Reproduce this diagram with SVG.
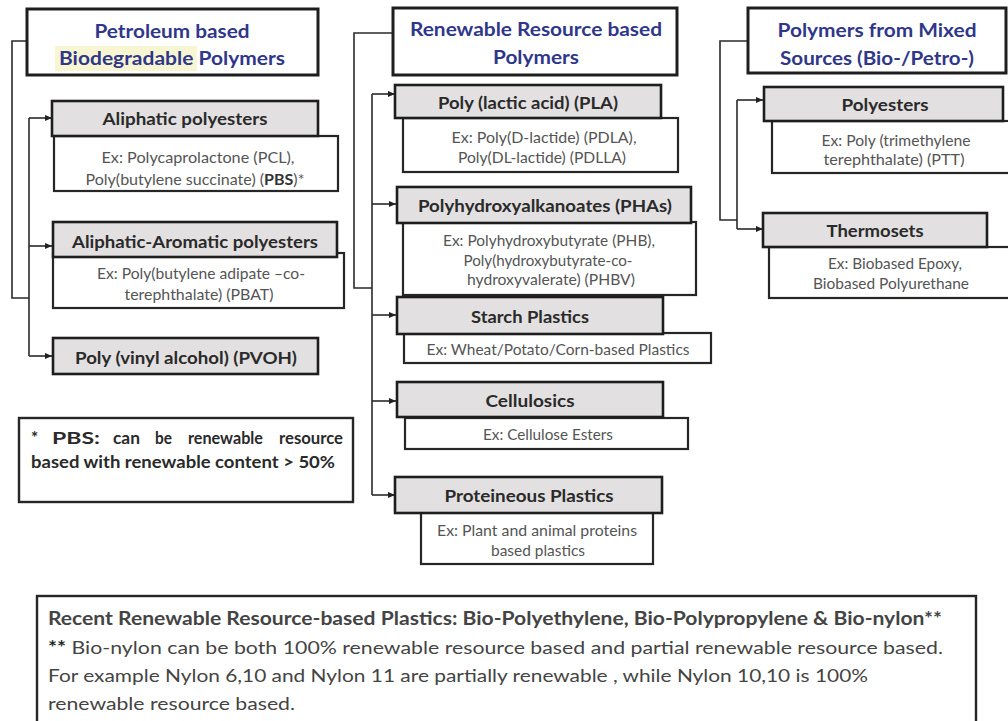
<svg xmlns="http://www.w3.org/2000/svg" width="1008" height="721" viewBox="0 0 1008 721">
<defs>
<marker id="arr" viewBox="0 0 8 8" refX="8" refY="4" markerWidth="7" markerHeight="7" markerUnits="userSpaceOnUse" orient="auto">
<path d="M0,0.5 L8,4 L0,7.5 z" fill="#222"/>
</marker>
<style>
.hdr{fill:#fff;stroke:#1e1e1e;stroke-width:3}
.cat{fill:#e2e0e0;stroke:#1e1e1e;stroke-width:2.6}
.ex{fill:#fff;stroke:#262626;stroke-width:2.2}
.note{fill:#fff;stroke:#262626;stroke-width:2.4}
.ht{font-family:Lato,"Liberation Sans",sans-serif;font-weight:bold;font-size:19px;fill:#2f378a;text-anchor:middle;dominant-baseline:central}
.ct{font-family:Lato,"Liberation Sans",sans-serif;font-weight:bold;font-size:17px;fill:#2a2a2a;text-anchor:middle;dominant-baseline:central}
.et{font-family:Lato,"Liberation Sans",sans-serif;font-size:15px;fill:#555;text-anchor:middle;dominant-baseline:central}
.nt{font-family:Lato,"Liberation Sans",sans-serif;font-weight:bold;font-size:17px;fill:#2a2a2a;dominant-baseline:central}
.bt{font-family:Lato,"Liberation Sans",sans-serif;font-size:18px;fill:#444;dominant-baseline:central}
.conn{fill:none;stroke:#2a2a2a;stroke-width:1.6}
</style>
</defs>
<rect width="1008" height="721" fill="#fff"/>

<g id="connectors">
<path class="conn" d="M27,41 H12 V298 H29"/>
<path class="conn" d="M29,118 V356"/>
<path class="conn" d="M29,118 H52" marker-end="url(#arr)"/>
<path class="conn" d="M29,246 H52" marker-end="url(#arr)"/>
<path class="conn" d="M29,356 H52" marker-end="url(#arr)"/>
<path class="conn" d="M393,33 H354 V288 H372"/>
<path class="conn" d="M372,94 V495"/>
<path class="conn" d="M372,94 H395" marker-end="url(#arr)"/>
<path class="conn" d="M372,204 H396" marker-end="url(#arr)"/>
<path class="conn" d="M372,315 H396" marker-end="url(#arr)"/>
<path class="conn" d="M372,401 H396" marker-end="url(#arr)"/>
<path class="conn" d="M372,495 H395" marker-end="url(#arr)"/>
<path class="conn" d="M748,41 H720 V220 H737"/>
<path class="conn" d="M737,100 V229"/>
<path class="conn" d="M737,100 H763" marker-end="url(#arr)"/>
<path class="conn" d="M737,229 H763" marker-end="url(#arr)"/>
</g>

<g id="hdr-petroleum">
<rect class="hdr" x="27" y="9" width="291" height="66"/>
<rect x="55" y="46" width="142" height="25" fill="#f8f6d2"/>
<text class="ht" x="172" y="30" textLength="155" lengthAdjust="spacingAndGlyphs">Petroleum based</text>
<text class="ht" x="172" y="57" textLength="226" lengthAdjust="spacingAndGlyphs">Biodegradable Polymers</text>
</g>

<g id="aliphatic">
<rect class="ex" x="54" y="136" width="284" height="55"/>
<rect class="cat" x="52" y="101" width="266" height="35"/>
<text class="ct" x="185" y="118" textLength="165" lengthAdjust="spacingAndGlyphs">Aliphatic polyesters</text>
<text class="et" x="198" y="157" textLength="193" lengthAdjust="spacingAndGlyphs">Ex: Polycaprolactone (PCL),</text>
<text class="et" x="195" y="179" textLength="219" lengthAdjust="spacingAndGlyphs">Poly(butylene succinate) (<tspan font-weight="bold" fill="#333">PBS</tspan>)*</text>
</g>

<g id="aliphatic-aromatic">
<rect class="ex" x="53" y="253" width="291" height="55"/>
<rect class="cat" x="53" y="222" width="284" height="35" stroke-width="3.2"/>
<text class="ct" x="195" y="241" textLength="246" lengthAdjust="spacingAndGlyphs">Aliphatic-Aromatic polyesters</text>
<text class="et" x="201" y="273" textLength="208" lengthAdjust="spacingAndGlyphs">Ex: Poly(butylene adipate –co-</text>
<text class="et" x="199" y="294" textLength="149" lengthAdjust="spacingAndGlyphs">terephthalate) (PBAT)</text>
</g>

<g id="pvoh">
<rect class="cat" x="53" y="338" width="265" height="36"/>
<text class="ct" x="186" y="357" textLength="222" lengthAdjust="spacingAndGlyphs">Poly (vinyl alcohol) (PVOH)</text>
</g>

<g id="pbs-note">
<rect class="note" x="19" y="418" width="334" height="84"/>
<text class="nt" y="437"><tspan x="31">*</tspan><tspan x="52" textLength="48" lengthAdjust="spacingAndGlyphs">PBS:</tspan><tspan x="113" textLength="27" lengthAdjust="spacingAndGlyphs">can</tspan><tspan x="155" textLength="17" lengthAdjust="spacingAndGlyphs">be</tspan><tspan x="188" textLength="75" lengthAdjust="spacingAndGlyphs">renewable</tspan><tspan x="279" textLength="64" lengthAdjust="spacingAndGlyphs">resource</tspan></text>
<text class="nt" x="31" y="461" textLength="304" lengthAdjust="spacingAndGlyphs">based with renewable content &gt; 50%</text>
</g>

<g id="hdr-renewable">
<rect class="hdr" x="393" y="8" width="284" height="67"/>
<text class="ht" x="536" y="28" textLength="252" lengthAdjust="spacingAndGlyphs">Renewable Resource based</text>
<text class="ht" x="536" y="56" textLength="86" lengthAdjust="spacingAndGlyphs">Polymers</text>
</g>

<g id="pla">
<rect class="ex" x="403" y="118" width="275" height="54"/>
<rect class="cat" x="395" y="85" width="266" height="33"/>
<text class="ct" x="528" y="102" textLength="180" lengthAdjust="spacingAndGlyphs">Poly (lactic acid) (PLA)</text>
<text class="et" x="544" y="137" textLength="185" lengthAdjust="spacingAndGlyphs">Ex: Poly(D-lactide) (PDLA),</text>
<text class="et" x="542" y="157" textLength="168" lengthAdjust="spacingAndGlyphs">Poly(DL-lactide) (PDLLA)</text>
</g>

<g id="phas">
<rect class="ex" x="403" y="222" width="293" height="73"/>
<rect class="cat" x="397" y="187" width="294" height="36"/>
<text class="ct" x="545" y="205" textLength="254" lengthAdjust="spacingAndGlyphs">Polyhydroxyalkanoates (PHAs)</text>
<text class="et" x="549" y="240" textLength="212" lengthAdjust="spacingAndGlyphs">Ex: Polyhydroxybutyrate (PHB),</text>
<text class="et" x="548" y="260" textLength="169" lengthAdjust="spacingAndGlyphs">Poly(hydroxybutyrate-co-</text>
<text class="et" x="551" y="279" textLength="168" lengthAdjust="spacingAndGlyphs">hydroxyvalerate) (PHBV)</text>
</g>

<g id="starch">
<rect class="ex" x="404" y="333" width="307" height="30"/>
<rect class="cat" x="397" y="297" width="266" height="37"/>
<text class="ct" x="530" y="316" textLength="118" lengthAdjust="spacingAndGlyphs">Starch Plastics</text>
<text class="et" x="558" y="349" textLength="263" lengthAdjust="spacingAndGlyphs">Ex: Wheat/Potato/Corn-based Plastics</text>
</g>

<g id="cellulosics">
<rect class="ex" x="405" y="418" width="283" height="31"/>
<rect class="cat" x="397" y="382" width="266" height="35"/>
<text class="ct" x="530" y="400" textLength="89" lengthAdjust="spacingAndGlyphs">Cellulosics</text>
<text class="et" x="548" y="434" textLength="130" lengthAdjust="spacingAndGlyphs">Ex: Cellulose Esters</text>
</g>

<g id="proteineous">
<rect class="ex" x="421" y="512" width="232" height="52"/>
<rect class="cat" x="395" y="477" width="267" height="36"/>
<text class="ct" x="529" y="495" textLength="169" lengthAdjust="spacingAndGlyphs">Proteineous Plastics</text>
<text class="et" x="537" y="530" textLength="200" lengthAdjust="spacingAndGlyphs">Ex: Plant and animal proteins</text>
<text class="et" x="538" y="550" textLength="94" lengthAdjust="spacingAndGlyphs">based plastics</text>
</g>

<g id="hdr-mixed">
<rect class="hdr" x="748" y="8" width="258" height="65"/>
<text class="ht" x="877" y="29" textLength="199" lengthAdjust="spacingAndGlyphs">Polymers from Mixed</text>
<text class="ht" x="877" y="57" textLength="194" lengthAdjust="spacingAndGlyphs">Sources (Bio-/Petro-)</text>
</g>

<g id="polyesters">
<rect class="ex" x="772" y="121" width="240" height="52"/>
<rect class="cat" x="764" y="87" width="239" height="34"/>
<text class="ct" x="885" y="104" textLength="87" lengthAdjust="spacingAndGlyphs">Polyesters</text>
<text class="et" x="896" y="140" textLength="149" lengthAdjust="spacingAndGlyphs">Ex: Poly (trimethylene</text>
<text class="et" x="894" y="159" textLength="141" lengthAdjust="spacingAndGlyphs">terephthalate) (PTT)</text>
</g>

<g id="thermosets">
<rect class="ex" x="769" y="247" width="243" height="51"/>
<rect class="cat" x="763" y="213" width="224" height="34"/>
<text class="ct" x="875" y="230" textLength="97" lengthAdjust="spacingAndGlyphs">Thermosets</text>
<text class="et" x="895" y="263" textLength="134" lengthAdjust="spacingAndGlyphs">Ex: Biobased Epoxy,</text>
<text class="et" x="891" y="283" textLength="156" lengthAdjust="spacingAndGlyphs">Biobased Polyurethane</text>
</g>

<g id="bottom-note">
<rect class="note" x="37" y="596" width="939" height="128"/>
<text class="bt" x="48" y="618" font-weight="bold" fill="#2a2a2a" textLength="894" lengthAdjust="spacingAndGlyphs">Recent Renewable Resource-based Plastics: Bio-Polyethylene, Bio-Polypropylene &amp; Bio-nylon**</text>
<text class="bt" x="48" y="647" textLength="895" lengthAdjust="spacingAndGlyphs"><tspan font-weight="bold" fill="#2a2a2a">**</tspan> Bio-nylon can be both 100% renewable resource based and partial renewable resource based.</text>
<text class="bt" x="48" y="675" textLength="820" lengthAdjust="spacingAndGlyphs">For example Nylon 6,10 and Nylon 11 are partially renewable , while Nylon 10,10 is 100%</text>
<text class="bt" x="48" y="703" textLength="247" lengthAdjust="spacingAndGlyphs">renewable resource based.</text>
</g>
</svg>
